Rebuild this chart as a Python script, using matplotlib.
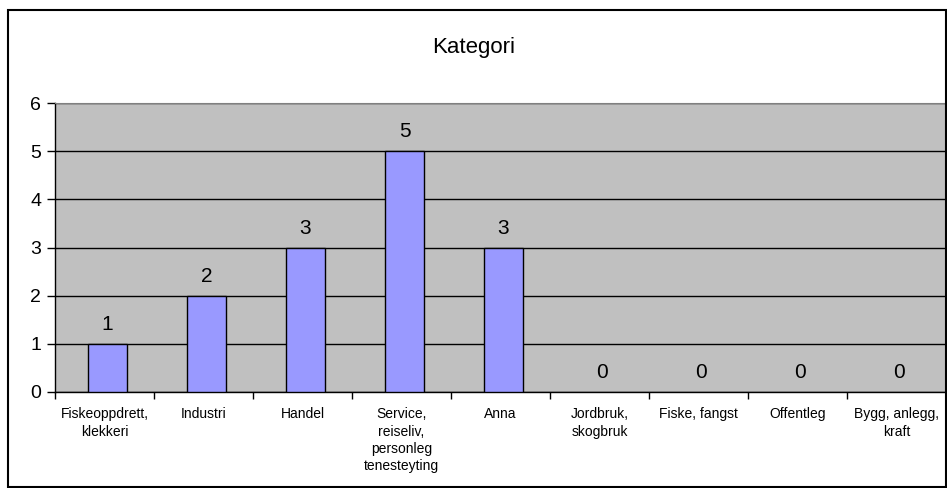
import matplotlib
matplotlib.use('Agg')
import matplotlib.pyplot as plt
import numpy as np
from matplotlib.patches import Rectangle

plt.rcParams['font.family'] = ['Liberation Sans', 'DejaVu Sans']

categories = ['Fiskeoppdrett,\nklekkeri', 'Industri', 'Handel',
              'Service,\nreiseliv,\npersonleg\ntenesteyting', 'Anna',
              'Jordbruk,\nskogbruk', 'Fiske, fangst', 'Offentleg',
              'Bygg, anlegg,\nkraft']
counts = [1, 2, 3, 5, 3, 0, 0, 0, 0]
yticks = [0, 1, 2, 3, 4, 5, 6]

fig = plt.figure(figsize=(9.47, 4.88), dpi=100)
fig.patches.append(Rectangle((8 / 947, 0.002), 938 / 947, 1 - 10 / 488 - 0.002,
                             transform=fig.transFigure, fill=False,
                             edgecolor='black', linewidth=1.5))
ax = fig.add_axes([55 / 947, 1 - 392 / 488, 891 / 947, 289 / 488])
ax.set_facecolor('#C0C0C0')

x = np.arange(len(categories))
bars = ax.bar(x + 0.03, counts, width=0.4, color='#9999FF',
              edgecolor=['black' if c > 0 else 'none' for c in counts],
              linewidth=1, zorder=3)
ax.bar_label(bars, labels=[str(c) for c in counts], padding=7, fontsize=15)

ax.set_xlim(-0.5, len(categories) - 0.5)
ax.set_ylim(0, 6)
ax.set_yticks(yticks)
ax.tick_params(axis='y', labelsize=14, length=6, width=1, direction='out', pad=4)
ax.yaxis.grid(True, color='black', linewidth=1, zorder=1)
ax.set_axisbelow(True)

ax.set_xticks(x)
ax.set_xticklabels(categories, fontsize=10, linespacing=1.3)
ax.tick_params(axis='x', length=0, pad=11)
ax.set_xticks(np.arange(len(categories) + 1) - 0.5, minor=True)
ax.tick_params(axis='x', which='minor', length=5, width=1, direction='out')

for s in ['top', 'right']:
    ax.spines[s].set_color('#808080')
for s in ['left', 'bottom']:
    ax.spines[s].set_color('black')
    ax.spines[s].set_linewidth(1)

fig.text(0.5, 1 - 47 / 488, 'Kategori', ha='center', va='center', fontsize=16)

fig.savefig('out.png', dpi=100)
